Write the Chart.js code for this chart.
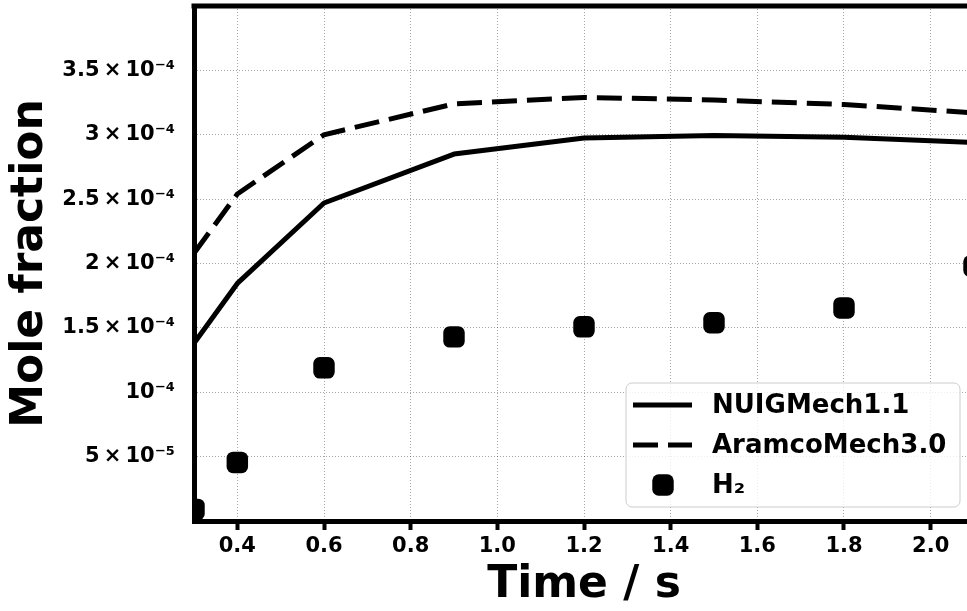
<!DOCTYPE html>
<html>
<head>
<meta charset="utf-8">
<script src="https://cdn.jsdelivr.net/npm/chart.js@4.4.0/dist/chart.umd.min.js"></script>
<style>
  html, body { margin: 0; padding: 0; background: #fff; overflow: hidden; }
  #wrap { width: 1000px; height: 611px; }
</style>
</head>
<body>
<div id="wrap"><canvas id="mole-chart"></canvas></div>
<script>
const times = [0.3, 0.4, 0.6, 0.9, 1.2, 1.5, 1.8, 2.1];
const nuigMech = [1.38e-4, 1.845e-4, 2.47e-4, 2.85e-4, 2.975e-4, 2.995e-4, 2.98e-4, 2.94e-4];
const aramcoMech = [2.08e-4, 2.54e-4, 3.0e-4, 3.24e-4, 3.29e-4, 3.27e-4, 3.235e-4, 3.17e-4];
const h2Measured = [0.9e-5, 4.55e-5, 1.19e-4, 1.43e-4, 1.508e-4, 1.54e-4, 1.655e-4, 1.98e-4];

const xTicks = [0.4, 0.6, 0.8, 1.0, 1.2, 1.4, 1.6, 1.8, 2.0];
const xTickLabels = ["0.4", "0.6", "0.8", "1.0", "1.2", "1.4", "1.6", "1.8", "2.0"];
const yTicks = [5e-5, 1e-4, 1.5e-4, 2e-4, 2.5e-4, 3e-4, 3.5e-4];
const yTickLabels = ["5\u2009×\u200910⁻⁵", "10⁻⁴", "1.5\u2009×\u200910⁻⁴", "2\u2009×\u200910⁻⁴",
  "2.5\u2009×\u200910⁻⁴", "3\u2009×\u200910⁻⁴", "3.5\u2009×\u200910⁻⁴"];

const FONT = "'DejaVu Sans', sans-serif";
const toPoints = (ys) => times.map((t, i) => ({ x: t, y: ys[i] }));

// top spine (matplotlib box), the right one falls outside the window
const topFrame = {
  id: "topFrame",
  afterDraw(chart) {
    const { ctx, chartArea } = chart;
    ctx.save();
    ctx.strokeStyle = "#000";
    ctx.lineWidth = 5;
    ctx.beginPath();
    ctx.moveTo(chartArea.left - 2.5, chartArea.top);
    ctx.lineTo(chartArea.right + 2.5, chartArea.top);
    ctx.lineTo(chartArea.right, chartArea.bottom);
    ctx.stroke();
    ctx.restore();
  },
};

// legend in the lower right corner of the plot
const cornerLegend = {
  id: "cornerLegend",
  afterDraw(chart) {
    const { ctx, chartArea } = chart;
    const w = 334, h = 124, pad = 14;
    const x0 = chartArea.right - pad - w;
    const y0 = chartArea.bottom - pad - h;
    ctx.save();
    ctx.fillStyle = "rgba(255,255,255,0.8)";
    ctx.strokeStyle = "#cccccc";
    ctx.lineWidth = 1;
    ctx.beginPath();
    ctx.roundRect(x0, y0, w, h, 6);
    ctx.fill();
    ctx.stroke();

    ctx.font = "bold 26px " + FONT;
    ctx.textBaseline = "middle";
    ctx.textAlign = "left";
    chart.data.datasets.forEach((ds, i) => {
      const cy = y0 + 22 + i * 40;
      ctx.strokeStyle = "#000";
      ctx.fillStyle = "#000";
      if (ds.showLine) {
        ctx.lineWidth = ds.borderWidth;
        ctx.setLineDash(ds.borderDash || []);
        ctx.beginPath();
        ctx.moveTo(x0 + 7, cy);
        ctx.lineTo(x0 + 66, cy);
        ctx.stroke();
        ctx.setLineDash([]);
      } else {
        Chart.helpers.drawPoint(ctx, {
          pointStyle: ds.pointStyle,
          radius: ds.pointRadius,
          borderWidth: 0,
          rotation: 0,
        }, x0 + 37, cy);
      }
      ctx.fillText(ds.label, x0 + 86, cy + 1);
    });
    ctx.restore();
  },
};

new Chart(document.getElementById("mole-chart"), {
  type: "scatter",
  data: {
    datasets: [
      {
        label: "NUIGMech1.1",
        data: toPoints(nuigMech),
        showLine: true,
        borderColor: "#000",
        borderWidth: 5,
        borderJoinStyle: "round",
        pointRadius: 0,
        clip: 0,
      },
      {
        label: "AramcoMech3.0",
        data: toPoints(aramcoMech),
        showLine: true,
        borderColor: "#000",
        borderWidth: 5,
        borderDash: [25, 10],
        pointRadius: 0,
        clip: 0,
      },
      {
        label: "H₂",
        data: toPoints(h2Measured),
        showLine: false,
        pointStyle: "rectRounded",
        pointRadius: 12.5,
        pointHoverRadius: 12.5,
        pointBackgroundColor: "#000",
        pointBorderWidth: 0,
        clip: 0,
      },
    ],
  },
  options: {
    responsive: true,
    maintainAspectRatio: false,
    animation: false,
    devicePixelRatio: 1,
    events: [],
    layout: { autoPadding: false, padding: { top: 6, right: 26, bottom: 0, left: 0 } },
    plugins: { legend: { display: false }, tooltip: { enabled: false } },
    scales: {
      x: {
        type: "linear",
        min: 0.3,
        max: 2.1,
        z: 1,
        afterBuildTicks: (s) => { s.ticks = xTicks.map((v) => ({ value: v })); },
        afterFit: (s) => { s.height = 90; s.paddingLeft = 0; s.paddingRight = 0; },
        grid: {
          color: "rgba(0,0,0,0.35)",
          lineWidth: 1,
          tickColor: "#000",
          tickWidth: 4,
          tickLength: 9,
        },
        border: { color: "#000", width: 5, dash: [1, 2] },
        ticks: {
          color: "#000",
          padding: 4,
          maxRotation: 0,
          font: { family: FONT, size: 21, weight: "bold" },
          callback: (v, i) => xTickLabels[i],
        },
        title: {
          display: true,
          text: "Time / s",
          color: "#000",
          font: { family: FONT, size: 44, weight: "bold", lineHeight: 1 },
          padding: { top: 0, bottom: 3 },
        },
      },
      y: {
        type: "linear",
        min: 0,
        max: 4e-4,
        z: 1,
        afterBuildTicks: (s) => { s.ticks = yTicks.map((v) => ({ value: v })); },
        afterFit: (s) => { s.width = 194; s.paddingTop = 0; s.paddingBottom = 0; },
        grid: {
          color: "rgba(0,0,0,0.35)",
          lineWidth: 1,
          drawTicks: false,
        },
        border: { color: "#000", width: 5, dash: [1, 2] },
        ticks: {
          color: "#000",
          padding: 19,
          font: { family: FONT, size: 21, weight: "bold" },
          callback: (v, i) => yTickLabels[i],
        },
        title: {
          display: true,
          text: "Mole fraction",
          color: "#000",
          font: { family: FONT, size: 44, weight: "bold", lineHeight: 1 },
          padding: { top: 9, bottom: 0 },
        },
      },
    },
  },
  plugins: [topFrame, cornerLegend],
});
</script>
</body>
</html>
